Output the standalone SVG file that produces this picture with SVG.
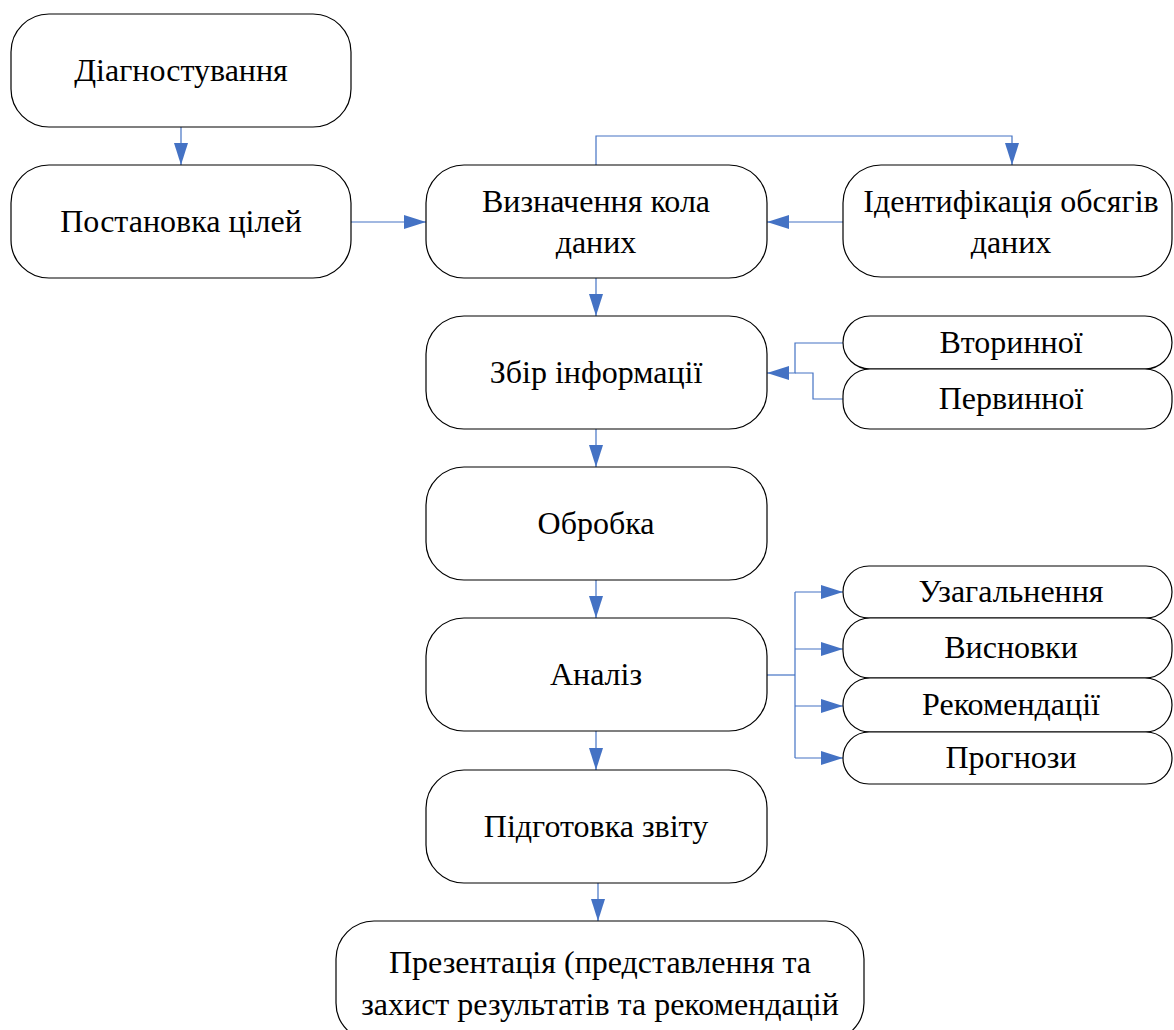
<svg xmlns="http://www.w3.org/2000/svg" width="1174" height="1030" viewBox="0 0 1174 1030">
<style>
.box{fill:#fff;stroke:#000;stroke-width:1.2}
.t{font-family:"Liberation Serif","Times New Roman",serif;font-size:32px;fill:#000;text-anchor:middle}
.c{fill:none;stroke:#4472C4;stroke-width:1.2}
</style>
<defs>
<marker id="a" markerWidth="22" markerHeight="14" refX="22" refY="7" orient="auto" markerUnits="userSpaceOnUse">
<path d="M0,0 L22,7 L0,14 Z" fill="#4472C4"/>
</marker>
</defs>
<rect width="1174" height="1030" fill="#fff"/>
<g id="connectors">
<path class="c" d="M181,127 V165" marker-end="url(#a)"/>
<path class="c" d="M351,222 H426" marker-end="url(#a)"/>
<path class="c" d="M596,165 V136 H1012 V165" marker-end="url(#a)"/>
<path class="c" d="M843,222 H767" marker-end="url(#a)"/>
<path class="c" d="M596,278 V316" marker-end="url(#a)"/>
<path class="c" d="M843,343 H795 V373 H767" marker-end="url(#a)"/>
<path class="c" d="M843,399 H813 V373 H795"/>
<path class="c" d="M596,429 V467" marker-end="url(#a)"/>
<path class="c" d="M596,580 V618" marker-end="url(#a)"/>
<path class="c" d="M767,675 H795"/>
<path class="c" d="M795,592 V758"/>
<path class="c" d="M795,592 H843" marker-end="url(#a)"/>
<path class="c" d="M795,649 H843" marker-end="url(#a)"/>
<path class="c" d="M795,706 H843" marker-end="url(#a)"/>
<path class="c" d="M795,758 H843" marker-end="url(#a)"/>
<path class="c" d="M596,731 V770" marker-end="url(#a)"/>
<path class="c" d="M598,883 V921" marker-end="url(#a)"/>
</g>
<g id="n1"><rect class="box" x="11" y="14" width="340" height="113" rx="38"/><text class="t" x="181" y="81">Діагностування</text></g>
<g id="n2"><rect class="box" x="11" y="165" width="340" height="113" rx="38"/><text class="t" x="181" y="232">Постановка цілей</text></g>
<g id="n3"><rect class="box" x="426" y="165" width="341" height="113" rx="38"/><text class="t" x="596" y="212">Визначення кола</text><text class="t" x="596" y="253">даних</text></g>
<g id="n4"><rect class="box" x="843" y="165" width="329" height="112" rx="38"/><text class="t" x="1011" y="212">Ідентифікація обсягів</text><text class="t" x="1011" y="253">даних</text></g>
<g id="n5"><rect class="box" x="426" y="316" width="341" height="113" rx="38"/><text class="t" x="596" y="383">Збір інформації</text></g>
<g id="n6"><rect class="box" x="843" y="316" width="329" height="53" rx="27"/><text class="t" x="1011" y="353">Вторинної</text></g>
<g id="n7"><rect class="box" x="843" y="369" width="329" height="60" rx="27"/><text class="t" x="1011" y="409">Первинної</text></g>
<g id="n8"><rect class="box" x="426" y="467" width="341" height="113" rx="38"/><text class="t" x="596" y="534">Обробка</text></g>
<g id="n9"><rect class="box" x="426" y="618" width="341" height="113" rx="38"/><text class="t" x="596" y="685">Аналіз</text></g>
<g id="n10"><rect class="box" x="843" y="566" width="329" height="52" rx="26"/><text class="t" x="1011" y="602">Узагальнення</text></g>
<g id="n11"><rect class="box" x="843" y="618" width="329" height="60" rx="27"/><text class="t" x="1011" y="658">Висновки</text></g>
<g id="n12"><rect class="box" x="843" y="678" width="329" height="54" rx="27"/><text class="t" x="1011" y="715">Рекомендації</text></g>
<g id="n13"><rect class="box" x="843" y="732" width="329" height="52" rx="26"/><text class="t" x="1011" y="768">Прогнози</text></g>
<g id="n14"><rect class="box" x="426" y="770" width="341" height="113" rx="38"/><text class="t" x="596" y="837">Підготовка звіту</text></g>
<g id="n15"><rect class="box" x="336" y="921" width="528" height="120" rx="38"/><text class="t" x="600" y="973">Презентація (представлення та</text><text class="t" x="600" y="1015">захист результатів та рекомендацій</text></g>
</svg>
